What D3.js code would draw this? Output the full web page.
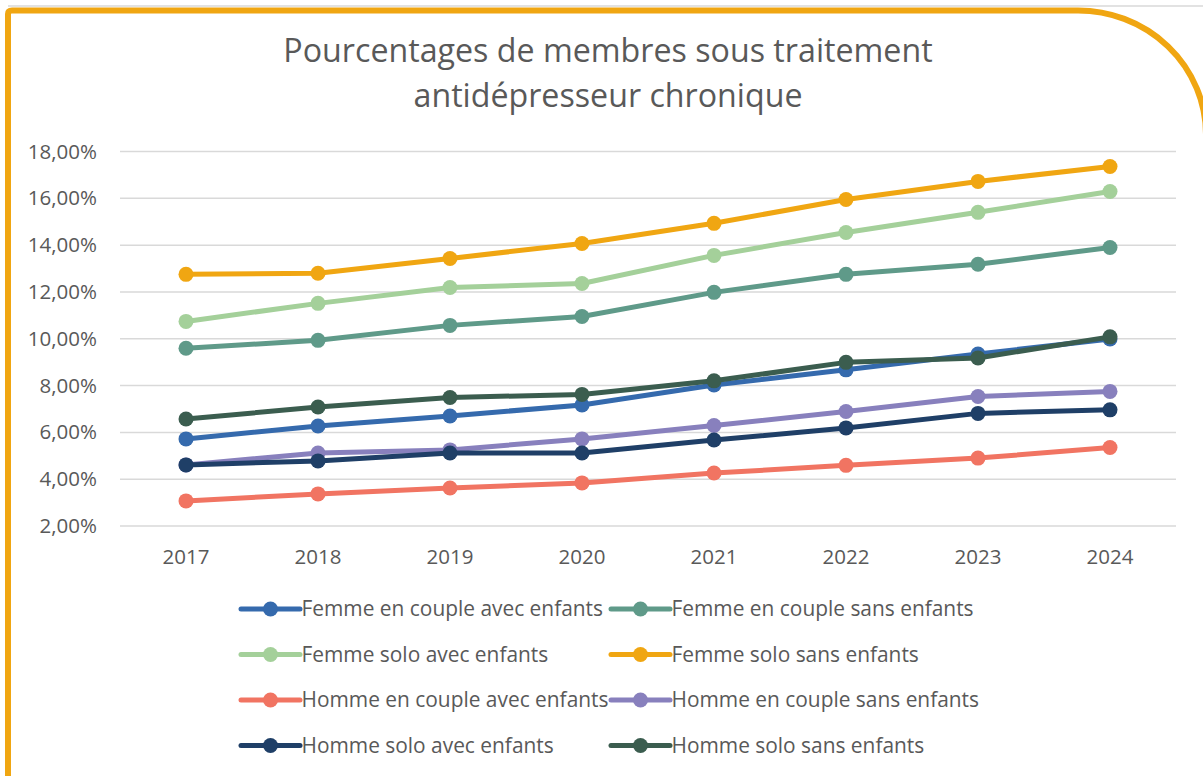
<!DOCTYPE html>
<html>
<head>
<meta charset="utf-8">
<script src="https://cdn.jsdelivr.net/npm/d3@7"></script>
<style>
  html, body { margin: 0; padding: 0; background: #fff; }
  svg { display: block; font-family: 'Open Sans', sans-serif; }
</style>
</head>
<body>
<div id="chartDiv"></div>
<script>
// years on the x axis
const years = ['2017', '2018', '2019', '2020', '2021', '2022', '2023', '2024']

// y ticks (percent)
const yTicks = [2, 4, 6, 8, 10, 12, 14, 16, 18]

const titleLines = ['Pourcentages de membres sous traitement', 'antidépresseur chronique']

// one array per group, values in %
const femmeCoupleAvec = [5.70, 6.25, 6.68, 7.15, 8.00, 8.65, 9.33, 9.97]
const femmeCoupleSans = [9.57, 9.91, 10.55, 10.93, 11.96, 12.73, 13.16, 13.88]
const femmeSoloAvec = [10.72, 11.49, 12.17, 12.34, 13.54, 14.52, 15.38, 16.27]
const femmeSoloSans = [12.73, 12.78, 13.41, 14.05, 14.91, 15.93, 16.70, 17.34]
const hommeCoupleAvec = [3.05, 3.35, 3.60, 3.82, 4.24, 4.57, 4.88, 5.33]
const hommeCoupleSans = [4.59, 5.10, 5.23, 5.70, 6.27, 6.87, 7.51, 7.73]
const hommeSoloAvec = [4.59, 4.76, 5.10, 5.10, 5.65, 6.17, 6.79, 6.94]
const hommeSoloSans = [6.55, 7.06, 7.47, 7.60, 8.18, 8.97, 9.16, 10.06]

const seriesNames = [
  'Femme en couple avec enfants',
  'Femme en couple sans enfants',
  'Femme solo avec enfants',
  'Femme solo sans enfants',
  'Homme en couple avec enfants',
  'Homme en couple sans enfants',
  'Homme solo avec enfants',
  'Homme solo sans enfants'
]
const seriesValues = [
  femmeCoupleAvec, femmeCoupleSans, femmeSoloAvec, femmeSoloSans,
  hommeCoupleAvec, hommeCoupleSans, hommeSoloAvec, hommeSoloSans
]
const seriesColors = [
  '#356aad', '#5f9a89', '#a4d09a', '#f0a612',
  '#f17462', '#8880bd', '#1f3f67', '#3b5d4f'
]

const series = seriesNames.map((name, i) => ({
  name,
  color: seriesColors[i],
  values: seriesValues[i].map((v, j) => ({ year: years[j], value: v }))
}))

const width = 1203
const height = 776
const margin = { top: 151, right: 27, bottom: 250.5, left: 120 }
const textColor = '#595959'

const svg = d3.select('#chartDiv').append('svg')
  .attr('width', width)
  .attr('height', height)

// frame: thin gray line at top + orange border with a rounded top-right corner
svg.append('line')
  .attr('x1', 8).attr('x2', width)
  .attr('y1', 6).attr('y2', 6)
  .attr('stroke', '#d9d9d9')
  .attr('stroke-width', 1.5)

svg.append('path')
  .attr('d', 'M8,790 L8,14 Q8,10.5 12,10.5 L1077,10.5 A128,124 0 0 1 1206,134 L1206,790')
  .attr('fill', 'none')
  .attr('stroke', '#f0a612')
  .attr('stroke-width', 6)

// title
svg.append('text')
  .attr('x', 608)
  .attr('text-anchor', 'middle')
  .attr('fill', textColor)
  .style('font-size', '32.2px')
  .selectAll('tspan')
  .data(titleLines)
  .enter()
  .append('tspan')
  .attr('x', 608)
  .attr('y', (d, i) => 62 + i * 45)
  .text(d => d)

const xScale = d3.scaleBand()
  .domain(years)
  .range([margin.left, width - margin.right])

const yScale = d3.scaleLinear()
  .domain([2, 18])
  .range([height - margin.bottom, margin.top])

const frLocale = d3.formatLocale({ decimal: ',', thousands: ' ', grouping: [3], currency: ['', ' €'] })
const fmt = frLocale.format('.2f')

// gridlines
svg.append('g')
  .attr('transform', `translate(${margin.left},0)`)
  .call(d3.axisLeft(yScale).tickValues(yTicks).tickSize(-(width - margin.right - margin.left)).tickFormat(''))
  .call(g => g.select('.domain').remove())
  .selectAll('line')
  .attr('stroke', '#d9d9d9')
  .attr('stroke-width', 1.5)

// y axis labels
svg.append('g')
  .attr('transform', 'translate(97,0)')
  .call(d3.axisLeft(yScale).tickValues(yTicks).tickSize(0).tickPadding(0).tickFormat(d => fmt(d) + '%'))
  .call(g => g.select('.domain').remove())
  .selectAll('text')
  .attr('fill', textColor)
  .attr('dy', 7)
  .style('font-family', "'Open Sans', sans-serif")
  .style('font-size', '20.5px')

// x axis labels
svg.append('g')
  .attr('transform', `translate(0,${height - margin.bottom})`)
  .call(d3.axisBottom(xScale).tickSize(0).tickPadding(0))
  .call(g => g.select('.domain').remove())
  .selectAll('text')
  .attr('fill', textColor)
  .attr('y', 38.5)
  .attr('dy', 0)
  .style('font-family', "'Open Sans', sans-serif")
  .style('font-size', '20.5px')

const line = d3.line()
  .x(d => xScale(d.year) + xScale.bandwidth() / 2)
  .y(d => yScale(d.value))

const groups = svg.selectAll('.serie')
  .data(series)
  .enter()
  .append('g')
  .attr('class', 'serie')

groups.append('path')
  .attr('d', d => line(d.values))
  .attr('fill', 'none')
  .attr('stroke', d => d.color)
  .attr('stroke-width', 5)
  .attr('stroke-linejoin', 'round')

groups.selectAll('circle')
  .data(d => d.values.map(v => ({ ...v, color: d.color })))
  .enter()
  .append('circle')
  .attr('cx', d => xScale(d.year) + xScale.bandwidth() / 2)
  .attr('cy', d => yScale(d.value))
  .attr('r', 7.5)
  .attr('fill', d => d.color)

// legend, two columns
const legend = svg.append('g')
const items = legend.selectAll('g')
  .data(series)
  .enter()
  .append('g')
  .attr('transform', (d, i) => `translate(${241 + (i % 2) * 370},${609 + Math.floor(i / 2) * 45.5})`)

items.append('line')
  .attr('x1', 0).attr('x2', 59)
  .attr('y1', 0).attr('y2', 0)
  .attr('stroke', d => d.color)
  .attr('stroke-width', 5)
  .attr('stroke-linecap', 'round')

items.append('circle')
  .attr('cx', 29.5)
  .attr('r', 7.5)
  .attr('fill', d => d.color)

items.append('text')
  .attr('x', 60.5)
  .attr('y', 7)
  .attr('fill', textColor)
  .style('font-size', '20.9px')
  .text(d => d.name)
</script>
</body>
</html>
